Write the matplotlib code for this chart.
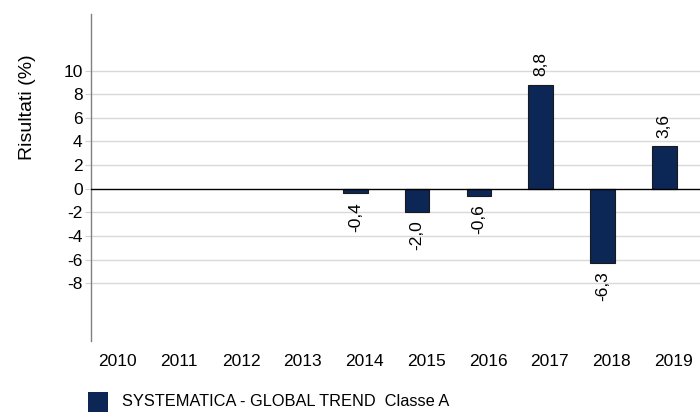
import matplotlib
matplotlib.use("Agg")
import matplotlib.pyplot as plt
from matplotlib.patches import Rectangle
import numpy as np

plt.rcParams['font.family'] = ['Liberation Sans', 'DejaVu Sans']

years = ["2010", "2011", "2012", "2013", "2014", "2015", "2016", "2017", "2018", "2019"]
values = [None, None, None, None, -0.4, -2.0, -0.6, 8.8, -6.3, 3.6]
yticks = [-8, -6, -4, -2, 0, 2, 4, 6, 8, 10]
series_name = "SYSTEMATICA - GLOBAL TREND  Classe A"
bar_color = "#0c2756"

W, H = 700, 412
fig = plt.figure(figsize=(W / 100, H / 100), dpi=100)
ax = fig.add_axes([91 / W, 1 - 341 / H, 1 - 91 / W, (341 - 14) / H])

x = np.arange(len(years))
for i, v in enumerate(values):
    if v is None:
        continue
    xb = i - 0.15
    ax.bar(xb, v, width=0.4, color=bar_color, edgecolor="#1a1a1a", linewidth=0.8, zorder=3)
    label = f"{v:.1f}".replace(".", ",")
    if v >= 0:
        ax.annotate(label, (xb, v), xytext=(0, 6), textcoords="offset points",
                    rotation=90, ha="center", va="bottom", fontsize=12.5)
    else:
        ax.annotate(label, (xb, v), xytext=(0, -6), textcoords="offset points",
                    rotation=90, ha="center", va="top", fontsize=12.5)

ax.set_xlim(-0.43, 9.43)
ax.set_ylim(-12.9, 14.8)
ax.set_yticks(yticks)
ax.set_yticklabels([str(t) for t in yticks], fontsize=12.5)
ax.set_xticks(x)
ax.set_xticklabels(years, fontsize=12.5)
ax.tick_params(axis="x", length=0, pad=9)
ax.tick_params(axis="y", length=4, color="#d0d0d0", pad=2)

for t in yticks:
    if t == 0:
        ax.axhline(0, color="black", linewidth=1.0, zorder=4)
    else:
        ax.axhline(t, color="#d9d9d9", linewidth=1.0, zorder=1)

for s in ["top", "right", "bottom"]:
    ax.spines[s].set_visible(False)
ax.spines["left"].set_color("#808080")
ax.spines["left"].set_linewidth(1.0)

fig.text(28 / W, 1 - 107 / H, "Risultati (%)", rotation=90, ha="center", va="center", fontsize=14)

fig.patches.append(Rectangle((88 / W, 0), 20 / W, 20 / H, transform=fig.transFigure,
                             facecolor=bar_color, edgecolor="none"))
fig.text(122 / W, 1 - 402 / H, series_name, ha="left", va="center", fontsize=11.8)

fig.savefig("out.png", dpi=100)
